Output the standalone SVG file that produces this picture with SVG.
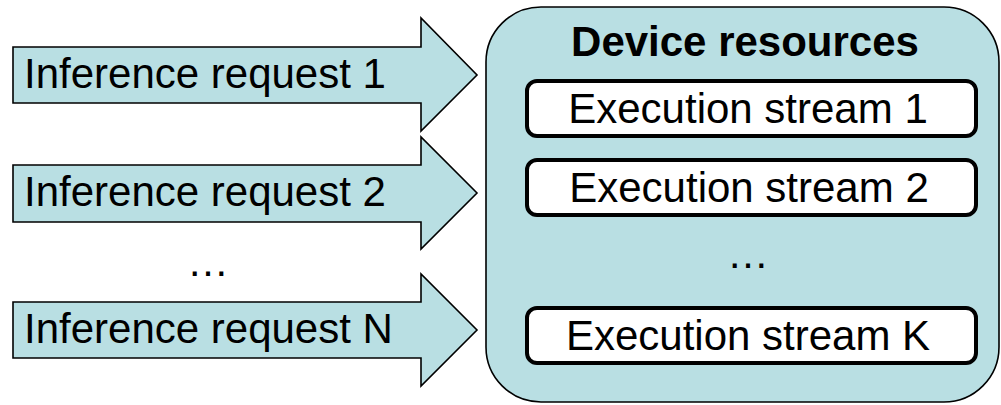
<svg xmlns="http://www.w3.org/2000/svg" width="1001" height="405" viewBox="0 0 1001 405">
<style>
.arrow{fill:#b9dfe3;stroke:#000;stroke-width:1.6;stroke-linejoin:miter}
.dev{fill:#b9dfe3;stroke:#000;stroke-width:1.6}
.es{fill:#fff;stroke:#000;stroke-width:4}
text{font-family:"Liberation Sans",Arial,sans-serif;font-size:42px;fill:#000}
.c{text-anchor:middle}
.b{font-weight:bold}
</style>
<rect width="1001" height="405" fill="#fff"/>
<g id="connectors">
<g id="req1">
<path class="arrow" d="M13,47 H421 V18 L477,75 L421,131 V103 H13 Z"/>
<text x="24" y="88">Inference request 1</text>
</g>
<g id="req2">
<path class="arrow" d="M13,165 H421 V137 L477,193 L421,249 V222 H13 Z"/>
<text x="24" y="206">Inference request 2</text>
</g>
<g id="reqN">
<path class="arrow" d="M13,302 H421 V274 L477,330 L421,386 V358 H13 Z"/>
<text x="24" y="343">Inference request N</text>
</g>
</g>
<text class="c" x="208" y="276">…</text>
<g id="device">
<rect class="dev" x="486" y="7" width="513" height="395" rx="55" ry="55"/>
<text class="c b" x="745" y="56">Device resources</text>
</g>
<g id="stream1">
<rect class="es" x="527" y="81" width="449" height="55" rx="10"/>
<text class="c" x="748" y="123">Execution stream 1</text>
</g>
<g id="stream2">
<rect class="es" x="527" y="160" width="449" height="55" rx="10"/>
<text class="c" x="749" y="202">Execution stream 2</text>
</g>
<text class="c" x="748" y="268">…</text>
<g id="streamK">
<rect class="es" x="527" y="308" width="449" height="55" rx="10"/>
<text class="c" x="748" y="350">Execution stream K</text>
</g>
</svg>
